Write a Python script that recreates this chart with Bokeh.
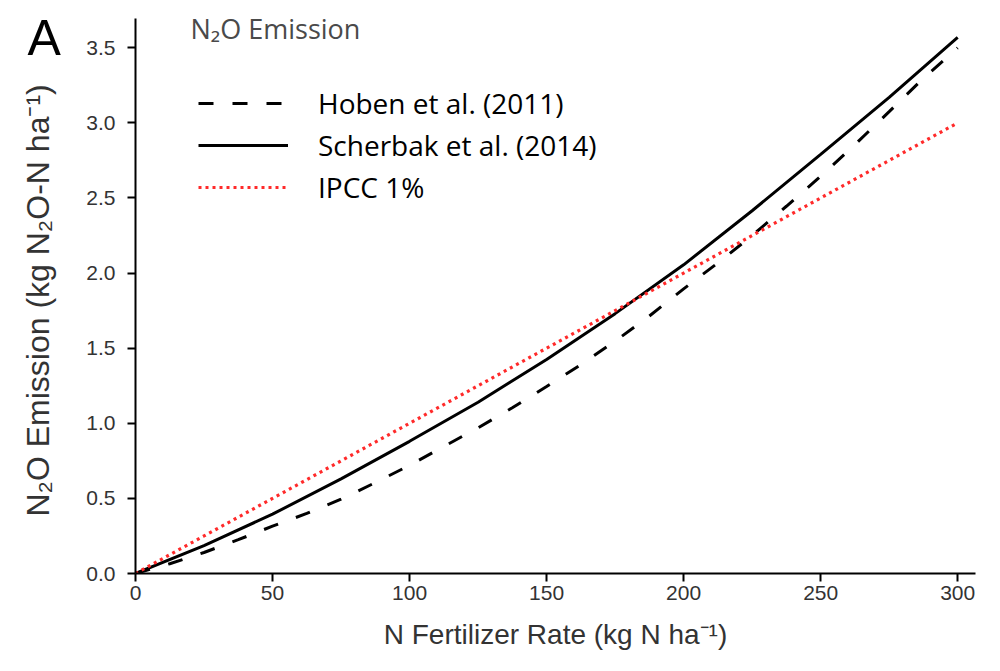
from bokeh.plotting import figure
from bokeh.models import (Range1d, Legend, LegendItem, Label, Title, FixedTicker,
                          CustomJSTickFormatter)
from bokeh.embed import file_html
from bokeh.resources import INLINE

# Data
hoben_rate = [0, 12.5, 25, 37.5, 50, 62.5, 75, 87.5, 100, 112.5, 125, 137.5, 150,
              162.5, 175, 187.5, 200, 212.5, 225, 237.5, 250, 262.5, 275, 287.5, 300]
hoben = [0, 0.065, 0.14, 0.225, 0.315, 0.40, 0.495, 0.605, 0.72, 0.846, 0.97, 1.103, 1.245,
         1.39, 1.547, 1.714, 1.895, 2.068, 2.25, 2.445, 2.645, 2.855, 3.075, 3.297, 3.50]
n_rate = [0, 25, 50, 75, 100, 125, 150, 175, 200, 225, 250, 275, 300]
scherbak = [0, 0.186, 0.395, 0.63, 0.88, 1.14, 1.425, 1.73, 2.055, 2.415, 2.79, 3.17, 3.57]
ipcc = [0, 0.25, 0.50, 0.75, 1.00, 1.25, 1.50, 1.75, 2.00, 2.25, 2.50, 2.75, 3.00]
x_ticks = [0, 50, 100, 150, 200, 250, 300]
y_ticks = [0.0, 0.5, 1.0, 1.5, 2.0, 2.5, 3.0, 3.5]
series_names = ["Hoben et al. (2011)", "Scherbak et al. (2014)", "IPCC 1%"]

p = figure(width=990, height=663, output_backend="svg", toolbar_location=None,
           x_range=Range1d(0, 306.5), y_range=Range1d(0, 3.695),
           min_border_left=135, min_border_right=15, min_border_top=18, min_border_bottom=90)
p.outline_line_color = None
p.grid.visible = False
p.background_fill_color = "white"

r_h = p.line(hoben_rate, hoben, line_color="black", line_width=3, line_dash="15 19")
r_s = p.line(n_rate, scherbak, line_color="black", line_width=3)
r_i = p.line(n_rate, ipcc, line_color="#ff2a2a", line_width=3.2, line_dash="3 4")

for ax in (p.xaxis[0], p.yaxis[0]):
    ax.axis_line_width = 2
    ax.axis_line_color = "black"
    ax.major_tick_line_width = 2
    ax.major_tick_line_color = "black"
    ax.major_tick_out = 8
    ax.major_tick_in = 0
    ax.minor_tick_line_color = None
    ax.major_label_text_font = "Liberation Sans"
    ax.major_label_text_font_size = "21px"
    ax.major_label_text_color = "#333333"
    ax.axis_label_text_font = "Liberation Sans"
    ax.axis_label_text_font_style = "normal"
    ax.axis_label_text_color = "#333333"

p.xaxis.axis_label_text_font_size = "28px"
p.yaxis.axis_label_text_font_size = "32px"
p.xaxis.ticker = FixedTicker(ticks=x_ticks)
p.yaxis.ticker = FixedTicker(ticks=y_ticks)
p.yaxis.formatter = CustomJSTickFormatter(code="return tick.toFixed(1);")
p.xaxis.major_label_standoff = 4
p.yaxis.major_label_standoff = 12
p.xaxis.axis_label = "N Fertilizer Rate (kg N ha\u207b\u00b9)"
p.yaxis.axis_label = "N\u2082O Emission  (kg N\u2082O-N ha\u207b\u00b9)"
p.xaxis.axis_label_standoff = 16
p.yaxis.axis_label_standoff = 27

legend = Legend(items=[LegendItem(label=series_names[0], renderers=[r_h]),
                       LegendItem(label=series_names[1], renderers=[r_s]),
                       LegendItem(label=series_names[2], renderers=[r_i])],
                location=(63, 365), glyph_width=90, glyph_height=42, label_height=42,
                spacing=0, padding=0, margin=0, label_standoff=30,
                label_text_font="Open Sans", label_text_font_size="28px",
                label_text_color="black", border_line_color=None,
                background_fill_alpha=0)
p.add_layout(legend, "center")

# Panel letter, as a title placed over the top-left corner
p.add_layout(Title(text="A", align="left", vertical_align="bottom", offset=-108, standoff=-94,
                   text_font="Liberation Sans", text_font_size="50px",
                   text_font_style="normal", text_color="black"), "above")

p.add_layout(Label(x=55, y=545, x_units="screen", y_units="screen", text="N\u2082O Emission",
                   text_baseline="alphabetic",
                   text_font="Open Sans", text_font_size="27px", text_color="#4a4a4a"))

open("out.html", "w").write(file_html(p, INLINE))
